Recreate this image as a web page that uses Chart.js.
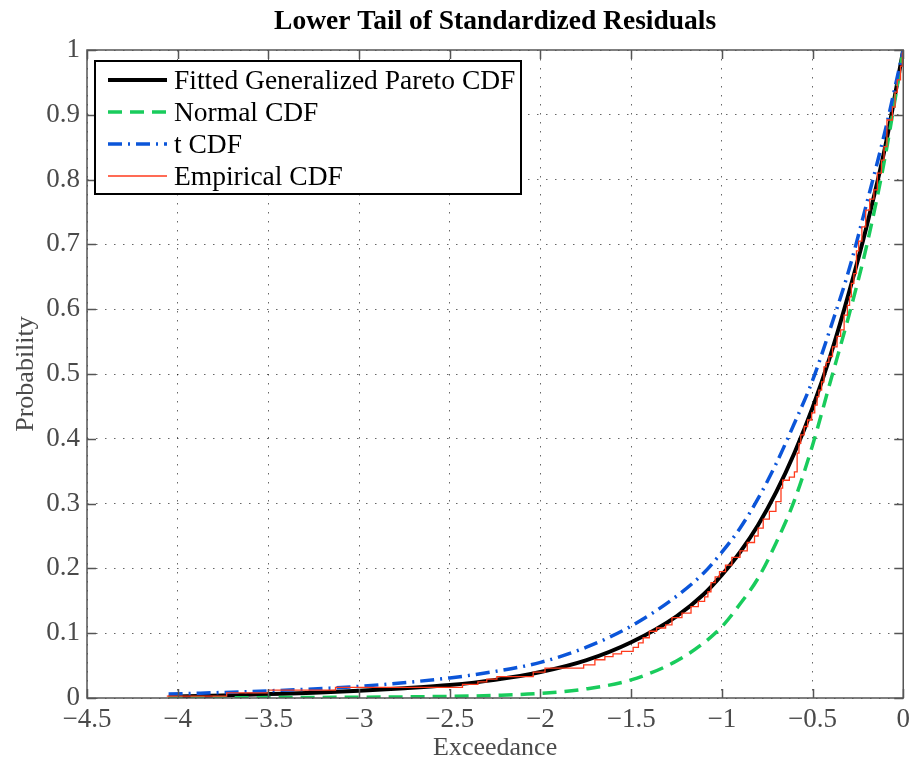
<!DOCTYPE html>
<html>
<head>
<meta charset="utf-8">
<script src="https://cdn.jsdelivr.net/npm/chart.js@4.4.0/dist/chart.umd.min.js"></script>
<style>
  html, body { margin: 0; padding: 0; background: #fff; }
  canvas { display: block; }
</style>
</head>
<body>
<canvas id="chart" width="916" height="763"></canvas>
<script>
// ticks
const xTicks = [-4.5, -4, -3.5, -3, -2.5, -2, -1.5, -1, -0.5, 0];
const xTickLabels = ["\u22124.5", "\u22124", "\u22123.5", "\u22123", "\u22122.5", "\u22122", "\u22121.5", "\u22121", "\u22120.5", "0"];
const yTicks = [0, 0.1, 0.2, 0.3, 0.4, 0.5, 0.6, 0.7, 0.8, 0.9, 1];
const yTickLabels = ["0", "0.1", "0.2", "0.3", "0.4", "0.5", "0.6", "0.7", "0.8", "0.9", "1"];

// fitted generalized pareto cdf
const gpX = [-4.05, -3.75, -3.5, -3.25, -3, -2.75, -2.5, -2.25, -2, -1.75, -1.5, -1.25, -1.1, -1, -0.9, -0.8, -0.7, -0.6, -0.5, -0.4, -0.3, -0.2, -0.1, 0];
const gpY = [0.002, 0.004, 0.006, 0.008, 0.011, 0.015, 0.02, 0.028, 0.04, 0.058, 0.086, 0.126, 0.16, 0.19, 0.225, 0.267, 0.318, 0.378, 0.448, 0.53, 0.625, 0.73, 0.85, 1];

// normal cdf
const normX = [-4.05, -3.5, -3, -2.5, -2.25, -2, -1.75, -1.5, -1.25, -1.1, -1, -0.9, -0.8, -0.7, -0.6, -0.5, -0.4, -0.3, -0.2, -0.1, 0];
const normY = [0.0004, 0.0006, 0.0012, 0.0025, 0.004, 0.007, 0.014, 0.028, 0.057, 0.085, 0.11, 0.145, 0.185, 0.24, 0.305, 0.39, 0.49, 0.59, 0.7, 0.835, 1];

// t cdf
const tX = [-4.05, -3.5, -3, -2.5, -2.25, -2, -1.75, -1.5, -1.25, -1.1, -1, -0.9, -0.8, -0.7, -0.6, -0.5, -0.4, -0.3, -0.2, -0.1, 0];
const tY = [0.006, 0.011, 0.018, 0.031, 0.041, 0.055, 0.078, 0.111, 0.157, 0.193, 0.225, 0.262, 0.308, 0.362, 0.424, 0.49, 0.572, 0.66, 0.765, 0.875, 1];

// empirical cdf (steps)
const empX = [-4.06, -3.73, -3.5, -3.13, -2.43, -2.345, -2.296, -2.24, -2.04, -1.975, -1.762, -1.7, -1.645, -1.6, -1.553, -1.489, -1.46, -1.434, -1.4, -1.36, -1.31, -1.275, -1.22, -1.17, -1.13, -1.095, -1.077, -1.06, -1.037, -1.013, -0.98, -0.945, -0.9, -0.86, -0.82, -0.8, -0.772, -0.738, -0.702, -0.674, -0.665, -0.628, -0.6, -0.585, -0.575, -0.565, -0.546, -0.527, -0.505, -0.488, -0.475, -0.465, -0.45, -0.437, -0.425, -0.41, -0.39, -0.365, -0.345, -0.326, -0.308, -0.296, -0.286, -0.272, -0.258, -0.246, -0.228, -0.207, -0.185, -0.162, -0.143, -0.12, -0.106, -0.09, -0.06, -0.045, -0.033, -0.015, -0.005, 0];
const empY = [0.003, 0.008, 0.012, 0.0165, 0.021, 0.025, 0.029, 0.033, 0.04, 0.046, 0.051, 0.059, 0.064, 0.068, 0.072, 0.078, 0.085, 0.093, 0.103, 0.108, 0.113, 0.124, 0.131, 0.141, 0.149, 0.156, 0.164, 0.178, 0.187, 0.195, 0.205, 0.217, 0.227, 0.24, 0.25, 0.262, 0.276, 0.288, 0.303, 0.324, 0.336, 0.341, 0.349, 0.378, 0.393, 0.406, 0.419, 0.429, 0.44, 0.452, 0.465, 0.475, 0.488, 0.511, 0.518, 0.527, 0.542, 0.558, 0.568, 0.591, 0.606, 0.619, 0.64, 0.655, 0.69, 0.705, 0.727, 0.753, 0.77, 0.784, 0.81, 0.83, 0.851, 0.892, 0.912, 0.935, 0.954, 0.975, 0.995, 1];

const pts = (xs, ys) => xs.map((x, i) => ({ x: x, y: ys[i] }));

const FONT = "'Liberation Serif', 'Times New Roman', serif";
const AXIS_GRAY = "#555555";
const TEXT_GRAY = "#4a4a4a";

const series = [
  { label: "Fitted Generalized Pareto CDF", color: "#000000", width: 4, dash: [] },
  { label: "Normal CDF", color: "#19cc5c", width: 3.5, dash: [14, 8] },
  { label: "t CDF", color: "#0b55d9", width: 3.5, dash: [14, 6, 2, 6] },
  { label: "Empirical CDF", color: "#ff3a1c", width: 1.3, dash: [] },
];

const frame = {
  id: "frame",
  afterDatasetsDraw(chart) {
    const { ctx, chartArea: { left, top, right, bottom }, scales: { x, y } } = chart;
    ctx.save();
    ctx.strokeStyle = AXIS_GRAY;
    ctx.lineWidth = 1.5;
    ctx.beginPath();
    xTicks.forEach((v) => {
      const px = Math.round(x.getPixelForValue(v)) + 0.5;
      ctx.moveTo(px, bottom); ctx.lineTo(px, bottom - 9);
      ctx.moveTo(px, top); ctx.lineTo(px, top + 9);
    });
    yTicks.forEach((v) => {
      const py = Math.round(y.getPixelForValue(v)) + 0.5;
      ctx.moveTo(left, py); ctx.lineTo(left + 9, py);
      ctx.moveTo(right, py); ctx.lineTo(right - 9, py);
    });
    ctx.stroke();
    ctx.strokeRect(left, top, right - left, bottom - top);
    ctx.restore();
  },
  afterDraw(chart) {
    const { ctx, chartArea: { left, top, right, bottom } } = chart;
    const cx = (left + right) / 2;
    ctx.save();
    // title
    ctx.fillStyle = "#000";
    ctx.font = "bold 27.5px " + FONT;
    ctx.textAlign = "center";
    ctx.textBaseline = "alphabetic";
    ctx.fillText("Lower Tail of Standardized Residuals", cx, 29);
    // axis titles
    ctx.fillStyle = TEXT_GRAY;
    ctx.font = "26px " + FONT;
    ctx.fillText("Exceedance", cx, 755);
    ctx.save();
    ctx.translate(33, (top + bottom) / 2);
    ctx.rotate(-Math.PI / 2);
    ctx.fillText("Probability", 0, 0);
    ctx.restore();
    // legend
    const bx = 95, by = 61, bw = 426, bh = 133;
    ctx.fillStyle = "#fff";
    ctx.fillRect(bx, by, bw, bh);
    ctx.strokeStyle = "#000";
    ctx.lineWidth = 2;
    ctx.strokeRect(bx, by, bw, bh);
    ctx.font = "27.5px " + FONT;
    ctx.textAlign = "left";
    ctx.textBaseline = "alphabetic";
    series.forEach((s, i) => {
      const ry = 80 + i * 32;
      ctx.strokeStyle = s.color;
      ctx.lineWidth = s.width;
      ctx.setLineDash(s.dash);
      ctx.beginPath();
      ctx.moveTo(108, ry);
      ctx.lineTo(167, ry);
      ctx.stroke();
      ctx.setLineDash([]);
      ctx.fillStyle = "#000";
      ctx.fillText(s.label, 174, ry + 9);
    });
    ctx.restore();
  },
};

const datasets = [
  { data: pts(gpX, gpY), order: 4 },
  { data: pts(normX, normY), order: 3 },
  { data: pts(tX, tY), order: 2 },
  { data: pts(empX, empY), order: 1, stepped: true },
].map((d, i) => Object.assign({
  label: series[i].label,
  borderColor: series[i].color,
  borderWidth: series[i].width,
  borderDash: series[i].dash,
  pointRadius: 0,
  fill: false,
  tension: d.stepped ? 0 : 0.4,
  cubicInterpolationMode: "monotone",
  stepped: false,
}, d));

new Chart(document.getElementById("chart"), {
  type: "line",
  data: { datasets: datasets },
  plugins: [frame],
  options: {
    responsive: false,
    animation: false,
    layout: { padding: { top: 50, right: 10, left: 0, bottom: 0 } },
    plugins: {
      legend: { display: false },
      tooltip: { enabled: false },
      title: { display: false },
    },
    scales: {
      x: {
        type: "linear",
        min: -4.5,
        max: 0,
        afterBuildTicks(scale) { scale.ticks = xTicks.map((v) => ({ value: v })); },
        afterFit(scale) { scale.height = 65; },
        grid: { color: "rgba(0,0,0,0.6)", lineWidth: 1, drawTicks: false },
        border: { display: false, dash: [1.5, 7.5] },
        ticks: {
          padding: 6,
          maxRotation: 0,
          autoSkip: false,
          color: TEXT_GRAY,
          font: { family: FONT, size: 27 },
          callback: (v) => xTickLabels[xTicks.indexOf(v)],
        },
      },
      y: {
        min: 0,
        max: 1,
        afterBuildTicks(scale) { scale.ticks = yTicks.map((v) => ({ value: v })); },
        afterFit(scale) { scale.width = 87; },
        grid: { color: "rgba(0,0,0,0.6)", lineWidth: 1, drawTicks: false },
        border: { display: false, dash: [1.5, 7.5] },
        ticks: {
          padding: 7,
          autoSkip: false,
          color: TEXT_GRAY,
          font: { family: FONT, size: 27 },
          callback: (v) => yTickLabels[yTicks.indexOf(v)],
        },
      },
    },
  },
});
</script>
</body>
</html>
